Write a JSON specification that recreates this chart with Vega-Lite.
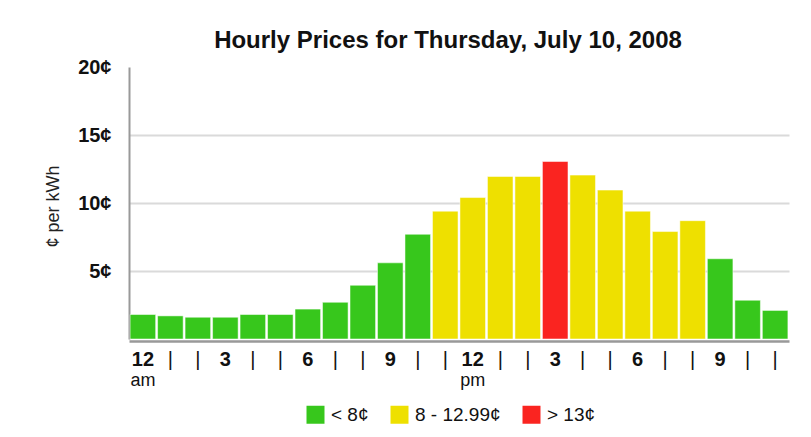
{
  "$schema": "https://vega.github.io/schema/vega-lite/v6.json",
  "autosize": {"type": "none"},
  "width": 660,
  "height": 272,
  "padding": {"left": 129, "top": 67, "right": 22, "bottom": 98},
  "background": "white",
  "config": {"view": {"stroke": null}},
  "title": {
    "text": "Hourly Prices for Thursday, July 10, 2008",
    "font": "Liberation Sans",
    "fontSize": 24,
    "fontWeight": "bold",
    "color": "#111111",
    "anchor": "middle",
    "frame": "group",
    "dx": -11,
    "offset": 4
  },
  "data": {
    "values": [
      {"hour": 0, "price": 1.8, "level": "< 8¢"},
      {"hour": 1, "price": 1.7, "level": "< 8¢"},
      {"hour": 2, "price": 1.6, "level": "< 8¢"},
      {"hour": 3, "price": 1.6, "level": "< 8¢"},
      {"hour": 4, "price": 1.8, "level": "< 8¢"},
      {"hour": 5, "price": 1.8, "level": "< 8¢"},
      {"hour": 6, "price": 2.2, "level": "< 8¢"},
      {"hour": 7, "price": 2.7, "level": "< 8¢"},
      {"hour": 8, "price": 3.95, "level": "< 8¢"},
      {"hour": 9, "price": 5.6, "level": "< 8¢"},
      {"hour": 10, "price": 7.7, "level": "< 8¢"},
      {"hour": 11, "price": 9.4, "level": "8 - 12.99¢"},
      {"hour": 12, "price": 10.4, "level": "8 - 12.99¢"},
      {"hour": 13, "price": 11.95, "level": "8 - 12.99¢"},
      {"hour": 14, "price": 11.95, "level": "8 - 12.99¢"},
      {"hour": 15, "price": 13.05, "level": "> 13¢"},
      {"hour": 16, "price": 12.05, "level": "8 - 12.99¢"},
      {"hour": 17, "price": 10.95, "level": "8 - 12.99¢"},
      {"hour": 18, "price": 9.4, "level": "8 - 12.99¢"},
      {"hour": 19, "price": 7.9, "level": "8 - 12.99¢"},
      {"hour": 20, "price": 8.7, "level": "8 - 12.99¢"},
      {"hour": 21, "price": 5.9, "level": "< 8¢"},
      {"hour": 22, "price": 2.85, "level": "< 8¢"},
      {"hour": 23, "price": 2.1, "level": "< 8¢"}
    ]
  },
  "layer": [
    {
      "mark": {"type": "bar", "stroke": "white", "strokeWidth": 1, "strokeOpacity": 0.5},
      "encoding": {
        "x": {
          "field": "hour",
          "type": "ordinal",
          "scale": {"paddingInner": 0.07, "paddingOuter": 0.04},
          "axis": {
            "orient": "bottom",
            "title": null,
            "bandPosition": 0,
            "labelAngle": 0,
            "labelAlign": "center",
            "labelBaseline": "top",
            "labelFont": "Liberation Sans",
            "labelFontSize": 20,
            "labelFontWeight": {"condition": {"test": "datum.value % 3 != 0", "value": "normal"}, "value": "bold"},
            "labelColor": "#111111",
            "labelPadding": 8,
            "labelExpr": "datum.value % 3 == 0 ? (datum.value % 12 == 0 ? '12' : '' + (datum.value % 12)) : '|'",
            "ticks": false,
            "grid": false,
            "domain": true,
            "domainColor": "#999999",
            "domainWidth": 2.5,
            "offset": 2,
            "labelOverlap": false
          }
        },
        "y": {
          "field": "price",
          "type": "quantitative",
          "scale": {"domain": [0, 20], "nice": false, "zero": true},
          "axis": {
            "title": "¢ per kWh",
            "titleFont": "Liberation Sans",
            "titleFontSize": 18,
            "titleFontWeight": "normal",
            "titleColor": "#222222",
            "titleAngle": -90,
            "titleX": -71,
            "titleY": 139,
            "titleAlign": "center",
            "titleBaseline": "alphabetic",
            "values": [5, 10, 15, 20],
            "labelExpr": "datum.value + '¢'",
            "labelFont": "Liberation Sans",
            "labelFontSize": 20,
            "labelFontWeight": "bold",
            "labelColor": "#111111",
            "labelPadding": 18,
            "ticks": false,
            "domain": true,
            "domainColor": "#999999",
            "domainWidth": 2,
            "grid": true,
            "gridColor": "#dadada",
            "gridWidth": 2,
            "gridOpacity": {"condition": {"test": "datum.value === 20", "value": 0}, "value": 1}
          }
        },
        "color": {
          "field": "level",
          "type": "nominal",
          "scale": {
            "domain": ["< 8¢", "8 - 12.99¢", "> 13¢"],
            "range": ["#37C71C", "#EEE000", "#FA2420"]
          },
          "legend": {
            "title": null,
            "orient": "none",
            "direction": "horizontal",
            "legendX": 177,
            "legendY": 338,
            "padding": 0,
            "symbolType": "square",
            "symbolSize": 324,
            "symbolStrokeWidth": 0,
            "symbolOpacity": 1,
            "labelFont": "Liberation Sans",
            "labelFontSize": 19,
            "labelColor": "#111111",
            "labelOffset": 6,
            "columnPadding": 21
          }
        }
      }
    },
    {
      "mark": {"type": "bar", "opacity": 0},
      "encoding": {
        "x": {
          "field": "hour",
          "type": "ordinal",
          "axis": {
            "orient": "bottom",
            "title": null,
            "bandPosition": 0,
            "labelAngle": 0,
            "labelAlign": "center",
            "labelBaseline": "top",
            "labelFont": "Liberation Sans",
            "labelFontSize": 18,
            "labelFontWeight": "normal",
            "labelColor": "#111111",
            "labelPadding": 0,
            "labelExpr": "datum.value == 0 ? 'am' : (datum.value == 12 ? 'pm' : '')",
            "ticks": false,
            "grid": false,
            "domain": false,
            "offset": 32,
            "labelOverlap": false
          }
        }
      }
    }
  ],
  "resolve": {"axis": {"x": "independent"}}
}
